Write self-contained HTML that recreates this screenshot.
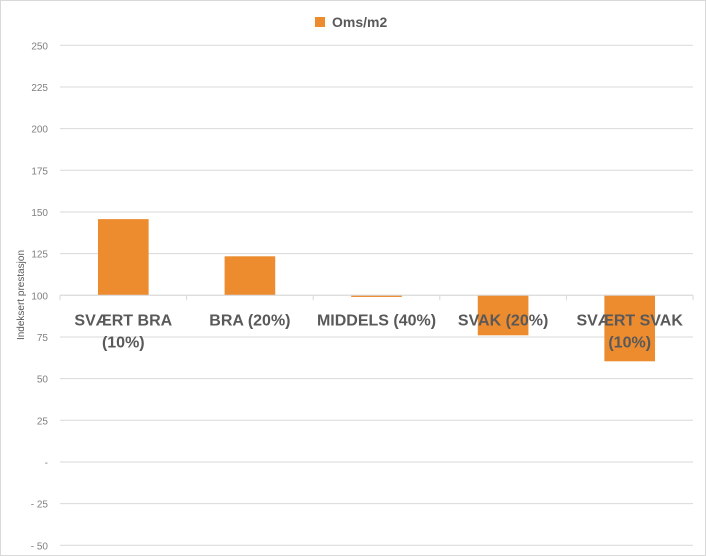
<!DOCTYPE html>
<html><head><meta charset="utf-8"><style>
html,body{margin:0;padding:0;background:#fff;}
svg{display:block;font-family:"Liberation Sans","DejaVu Sans",sans-serif;}
</style></head><body>
<svg id="chart" width="706" height="556" viewBox="0 0 706 556" xmlns="http://www.w3.org/2000/svg">
<rect x="0.5" y="0.5" width="705" height="555" fill="#fff" stroke="#d9d9d9"/>
<g id="grid"></g><g id="bars"></g><g id="axis"></g><g id="labels"></g>
<g>
<rect x="315" y="17" width="10" height="10" fill="#ed8b2f"/>
<text x="332" y="27" font-size="14" font-weight="bold" fill="#595959">Oms/m2</text>
</g>
<text transform="translate(24,295) rotate(-90)" text-anchor="middle" font-size="10" fill="#595959">Indeksert prestasjon</text>
</svg>
<script>
const categories=[["SVÆRT BRA","(10%)"],["BRA (20%)"],["MIDDELS (40%)"],["SVAK (20%)"],["SVÆRT SVAK","(10%)"]];
const values=[145.7,123.4,99,76,60.4];
const ticks=[250,225,200,175,150,125,100,75,50,25,0,-25,-50];
const tickLabels=["250","225","200","175","150","125","100","75","50","25","-","- 25","- 50"];
const baseline=100;
const NS="http://www.w3.org/2000/svg";
const left=60,right=693,yTop=45.3,yBot=545.3,vMax=250,vMin=-50;
const y=v=>yTop+(vMax-v)/(vMax-vMin)*(yBot-yTop);
const bw=(right-left)/categories.length;
const x=i=>left+bw*i;
function mk(t,a,p){const e=document.createElementNS(NS,t);for(const k in a)e.setAttribute(k,a[k]);p.appendChild(e);return e;}
const grid=document.getElementById('grid'),bars=document.getElementById('bars'),axis=document.getElementById('axis'),labels=document.getElementById('labels');
ticks.forEach((t,i)=>{
 const l=mk('line',{x1:left,x2:right,y1:y(t),y2:y(t),stroke:'#d9d9d9','stroke-width':1},grid);
 
 
 const tx=mk('text',{x:48,y:y(t)+4,'text-anchor':'end','font-size':10,fill:'#808080'},axis);
 tx.textContent=tickLabels[i];
 
 
});
values.forEach((v,i)=>{
 const cx=x(i)+bw/2,w=bw*0.4;
 const top=Math.min(y(v),y(baseline)),h=Math.max(Math.abs(y(v)-y(baseline)),1);
 const r=mk('rect',{x:cx-w/2,y:top,width:w,height:h,fill:'#ed8b2f'},bars);
 
 
});
const ax=mk('line',{x1:left,x2:right,y1:y(baseline),y2:y(baseline),stroke:'#d9d9d9','stroke-width':1},axis);


for(let i=0;i<=categories.length;i++){
 const tk=mk('line',{x1:x(i),x2:x(i),y1:y(baseline),y2:y(baseline)+5,stroke:'#d9d9d9'},axis);
 
 
}
categories.forEach((c,i)=>{
 c.forEach((line,j)=>{
  const t=mk('text',{x:x(i)+bw/2,y:y(baseline)+30+j*22,'text-anchor':'middle','font-size':16,'font-weight':'bold',fill:'#595959'},labels);
  t.textContent=line;
  
  
 });
});
</script>
</body></html>
